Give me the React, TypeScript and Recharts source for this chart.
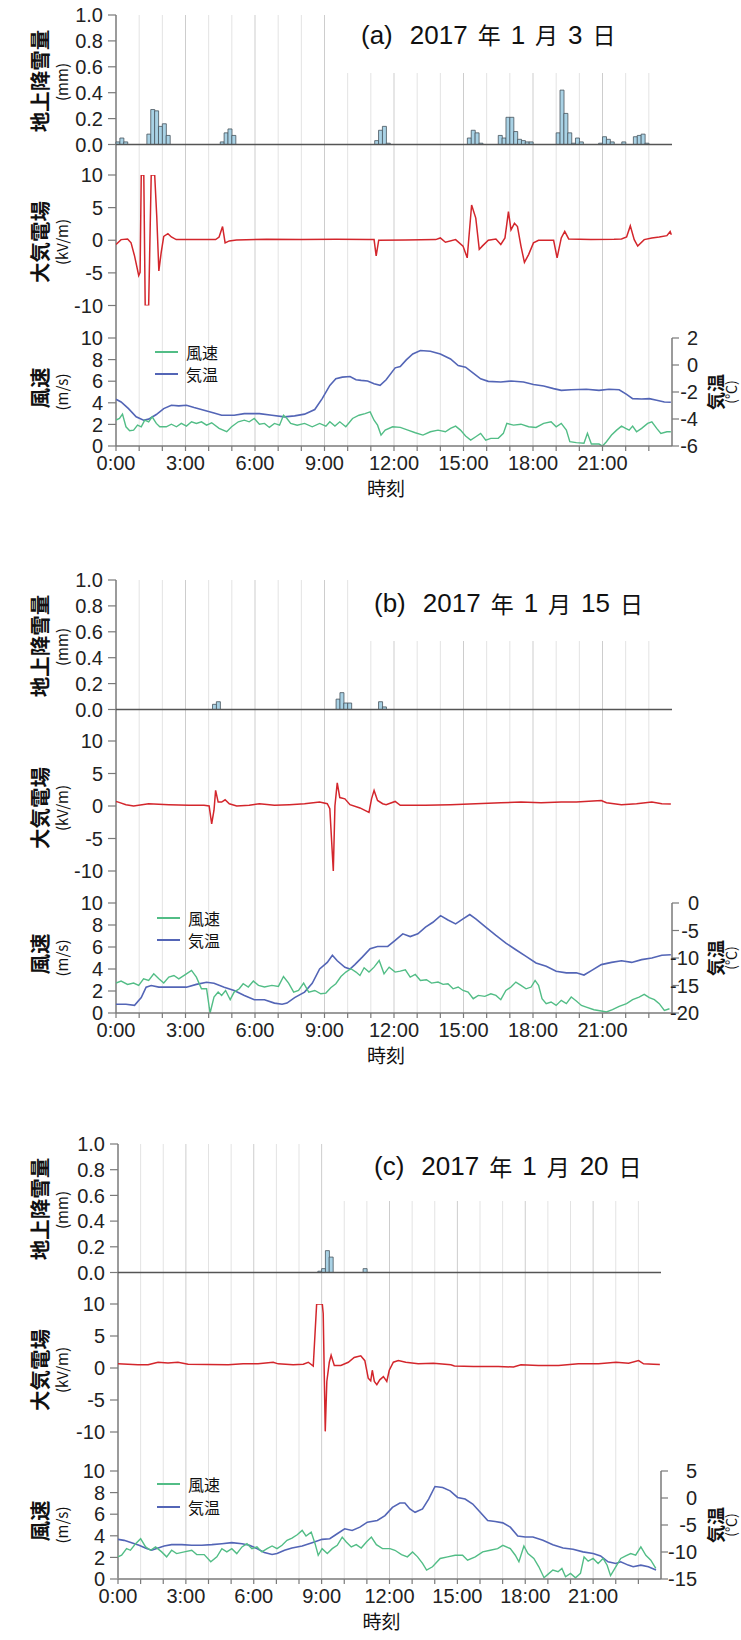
import React from "react";
import { Bar, BarChart, ComposedChart, Line, ReferenceLine, XAxis, YAxis } from "recharts";

type Pt = [number, number];

const W = 741;
const AXW = 60;
const PAD = 10;
const XAXIS_H = 34;

const NARROW = "'Liberation Sans Narrow', 'Arial Narrow', 'Liberation Sans', sans-serif";
const JP = "'Noto Sans CJK JP', 'Noto Sans', sans-serif";
const AXIS = "#7a7a7a";
const GRID = "#e3e3e3";
const GRID_3H = "#cdcdcd";
const RED = "#d3262c";
const GREEN = "#52bd86";
const BLUE = "#5365b6";
const SNOW_FILL = "#a9d2e5";
const SNOW_EDGE = "#46535c";

const HOUR_ROWS = [0, 24].map((h) => ({ h }));
const GRID_HOURS = [1, 2, 3, 4, 5, 6, 7, 8, 9, 10, 11, 12, 13, 14, 15, 16, 17, 18, 19, 20, 21, 22, 23];
const HOUR_TICKS = [0, 1, 2, 3, 4, 5, 6, 7, 8, 9, 10, 11, 12, 13, 14, 15, 16, 17, 18, 19, 20, 21, 22, 23];
const SNOW_TICKS = [0, 0.2, 0.4, 0.6, 0.8, 1.0];
const EF_TICKS = [-10, -5, 0, 5, 10];
const WIND_TICKS = [0, 2, 4, 6, 8, 10];
const SLOTS = 144; // 10-minute bins

// ---- (a) 2017-01-03 ----
const snowA: Pt[] = [
  [0, 0.02], [1, 0.05], [2, 0.02],
  [8, 0.08], [9, 0.27], [10, 0.26], [11, 0.14], [12, 0.16], [13, 0.07],
  [27, 0.02], [28, 0.09], [29, 0.12], [30, 0.07],
  [67, 0.03], [68, 0.11], [69, 0.14], [70, 0.01],
  [91, 0.05], [92, 0.11], [93, 0.09], [94, 0.01],
  [99, 0.07], [100, 0.05], [101, 0.21], [102, 0.21], [103, 0.1], [104, 0.04], [105, 0.03], [106, 0.02], [107, 0.02],
  [114, 0.09], [115, 0.42], [116, 0.24], [117, 0.09], [118, 0.01], [119, 0.05], [120, 0.02],
  [125, 0.01], [126, 0.06], [127, 0.04], [128, 0.02], [131, 0.02],
  [134, 0.06], [135, 0.07], [136, 0.08], [137, 0.01],
];
const efA: Pt[] = [
  [0, -0.65], [0.22, 0.1], [0.5, 0.2], [0.65, -0.4], [0.8, -2.4], [0.98, -5.4], [1.04, -4.9], [1.09, 10], [1.2, 10],
  [1.26, -10], [1.41, -10], [1.52, 10], [1.67, 10], [1.76, 3.6], [1.85, -4.7], [1.95, -1.9], [2.06, 0.6], [2.24, 1.0],
  [2.39, 0.5], [2.6, 0.1], [3.5, 0.1], [4.3, 0.1], [4.45, 0.5], [4.6, 2.1], [4.71, -0.4], [4.89, -0.1], [5.2, 0.05],
  [6.5, 0.15], [8, 0.1], [9.5, 0.15], [10.9, 0.1], [11.14, 0.1], [11.23, -2.4], [11.34, 0], [12.5, 0.05], [13.8, 0.1],
  [14.0, 0.35], [14.22, -0.3], [14.66, 0.1], [14.98, -0.9], [15.16, -2.7], [15.35, 5.4], [15.53, 3.4], [15.68, -1.4],
  [15.81, -0.9], [16.07, 0], [16.4, 0.2], [16.61, -0.65], [16.79, 0.35], [16.94, 4.4], [17.05, 1.6], [17.2, 2.6],
  [17.33, 2.1], [17.48, -0.9], [17.63, -3.4], [17.81, -2.2], [18.02, -0.4], [18.24, 0], [18.89, 0], [19.04, -2.7],
  [19.22, 0.35], [19.37, 1.35], [19.54, 0.2], [20.5, 0.1], [21.5, 0.15], [21.82, 0.2], [22.04, 0.5], [22.2, 2.2],
  [22.37, 0.1], [22.52, -0.9], [22.8, 0.1], [23.13, 0.35], [23.45, 0.5], [23.78, 0.7], [23.92, 1.35], [23.97, 0.85],
];
const windA: Pt[] = [
  [0, 2.4], [0.15, 2.55], [0.28, 2.95], [0.43, 1.78], [0.59, 1.41], [0.76, 1.47], [0.93, 1.93], [1.09, 1.78], [1.24, 2.39],
  [1.41, 2.24], [1.56, 2.7], [1.74, 2.09], [1.89, 1.78], [2.17, 1.78], [2.39, 2.02], [2.61, 1.78], [2.82, 2.09], [3.04, 1.84],
  [3.26, 2.24], [3.47, 2.09], [3.69, 2.24], [3.91, 1.93], [4.13, 2.15], [4.45, 1.63], [4.78, 1.32], [4.99, 1.78], [5.28, 2.24],
  [5.54, 2.39], [5.75, 2.24], [5.97, 2.55], [6.19, 2.02], [6.41, 2.09], [6.62, 1.72], [6.84, 2.09], [7.06, 1.93], [7.23, 2.85],
  [7.38, 2.55], [7.54, 2.09], [7.82, 1.93], [8.14, 2.09], [8.47, 1.78], [8.79, 2.09], [9.06, 1.84], [9.23, 2.24], [9.45, 1.84],
  [9.66, 2.24], [9.92, 1.78], [10.21, 2.55], [10.49, 2.85], [10.75, 3.0], [10.97, 3.16], [11.14, 2.39], [11.29, 1.93],
  [11.44, 1.01], [11.62, 1.47], [11.94, 1.78], [12.27, 1.72], [12.6, 1.47], [12.92, 1.23], [13.25, 1.01], [13.57, 1.32],
  [13.9, 1.47], [14.22, 1.32], [14.44, 1.63], [14.66, 1.84], [14.87, 1.47], [15.09, 0.92], [15.31, 0.55], [15.53, 0.86],
  [15.74, 1.17], [15.96, 0.55], [16.18, 0.71], [16.5, 0.71], [16.72, 1.17], [16.87, 2.09], [17.16, 1.93], [17.48, 2.02],
  [17.81, 1.78], [18.13, 1.72], [18.46, 2.09], [18.78, 2.24], [19.0, 1.78], [19.22, 2.09], [19.44, 1.47], [19.59, 0.4],
  [19.87, 0.31], [20.2, 0.25], [20.35, 1.17], [20.52, 0.18], [20.85, 0.18], [21.0, 0], [21.17, 0.4], [21.39, 1.01],
  [21.61, 1.47], [21.82, 1.84], [22.0, 1.63], [22.15, 1.47], [22.3, 1.84], [22.47, 1.32], [22.69, 1.63], [22.95, 2.09],
  [23.13, 2.24], [23.34, 1.63], [23.52, 1.17], [23.78, 1.32], [23.95, 1.32],
];
const tempA: Pt[] = [
  [0, -2.54], [0.22, -2.74], [0.54, -3.23], [0.87, -3.84], [1.19, -4.09], [1.41, -4.01], [1.74, -3.67], [2.06, -3.23],
  [2.39, -2.98], [2.71, -3.03], [3.04, -2.98], [3.37, -3.15], [3.8, -3.35], [4.23, -3.55], [4.56, -3.72], [5.1, -3.72],
  [5.54, -3.6], [6.19, -3.6], [6.73, -3.72], [7.27, -3.84], [7.71, -3.77], [8.14, -3.64], [8.58, -3.3], [8.9, -2.49],
  [9.23, -1.51], [9.49, -1.02], [9.77, -0.9], [10.1, -0.85], [10.36, -1.09], [10.58, -1.14], [10.86, -1.19], [11.14, -1.39],
  [11.4, -1.51], [11.66, -1.09], [12.05, -0.21], [12.27, -0.11], [12.53, 0.38], [12.81, 0.82], [13.14, 1.07], [13.57, 1.02],
  [14.0, 0.82], [14.44, 0.45], [14.77, -0.04], [15.09, -0.16], [15.42, -0.6], [15.74, -1.02], [16.07, -1.21], [16.61, -1.26],
  [17.05, -1.19], [17.59, -1.26], [18.02, -1.44], [18.46, -1.56], [18.89, -1.75], [19.22, -1.88], [19.65, -1.83],
  [20.3, -1.8], [20.85, -1.88], [21.28, -1.8], [21.72, -1.83], [22.04, -2.17], [22.3, -2.49], [22.69, -2.52], [23.02, -2.49],
  [23.34, -2.61], [23.67, -2.74], [23.95, -2.76],
];

// ---- (b) 2017-01-15 ----
const snowB: Pt[] = [
  [25, 0.04], [26, 0.06], [57, 0.08], [58, 0.13], [59, 0.05], [60, 0.05], [68, 0.06], [69, 0.02],
];
const efB: Pt[] = [
  [0, 0.7], [0.1, 0.6], [0.43, 0.2], [0.76, 0], [1.41, 0.35], [2.28, 0.2], [3.15, 0.1], [3.8, 0.1], [4.02, 0],
  [4.13, -2.75], [4.23, -0.65], [4.3, 2.4], [4.41, 0.6], [4.56, 0.6], [4.71, 0.95], [4.89, 0.35], [5.21, 0], [5.75, 0.1],
  [6.19, 0.35], [6.84, 0.1], [7.49, 0.2], [8.14, 0.35], [8.79, 0.6], [9.12, 0.35], [9.23, -0.4], [9.38, -10], [9.45, 0],
  [9.55, 3.55], [9.66, 1.3], [9.88, 1.1], [10.1, 0.2], [10.53, -0.3], [10.92, -1.0], [11.03, 1.1], [11.14, 2.4],
  [11.29, 0.85], [11.51, 0.35], [11.66, 0.2], [12.05, 0.7], [12.27, 0.1], [13.36, 0.1], [14.44, 0.2], [15.53, 0.35],
  [16.61, 0.5], [17.48, 0.6], [18.35, 0.5], [19.22, 0.6], [19.87, 0.6], [20.95, 0.85], [21.17, 0.5], [21.82, 0.2],
  [22.47, 0.35], [23.13, 0.6], [23.56, 0.35], [23.95, 0.3],
];
const windB: Pt[] = [
  [0, 2.72], [0.22, 2.9], [0.5, 2.6], [0.76, 2.72], [0.98, 2.51], [1.19, 3.11], [1.41, 2.96], [1.63, 3.56], [1.85, 3.11],
  [2.06, 2.72], [2.28, 3.26], [2.5, 3.41], [2.71, 3.11], [3.04, 3.56], [3.26, 3.87], [3.47, 3.26], [3.69, 2.2], [3.91, 2.2],
  [4.06, 0], [4.23, 1.45], [4.41, 1.9], [4.56, 1.6], [4.73, 2.05], [4.93, 1.21], [5.1, 1.9], [5.32, 2.2], [5.49, 2.66],
  [5.71, 2.36], [5.93, 2.9], [6.15, 2.51], [6.41, 2.36], [6.73, 2.51], [7.01, 2.42], [7.23, 3.32], [7.45, 2.72], [7.67, 1.9],
  [7.88, 2.05], [8.1, 2.72], [8.32, 1.9], [8.58, 2.05], [8.84, 1.75], [9.06, 1.81], [9.27, 2.3], [9.49, 2.66], [9.71, 3.32],
  [9.92, 3.72], [10.14, 4.02], [10.36, 3.72], [10.53, 3.41], [10.71, 4.11], [10.92, 3.72], [11.14, 4.17], [11.36, 4.77],
  [11.57, 3.56], [11.79, 4.17], [12.05, 3.72], [12.27, 3.81], [12.49, 3.93], [12.7, 3.26], [12.92, 3.5], [13.14, 2.96],
  [13.4, 3.02], [13.62, 2.72], [13.9, 2.81], [14.12, 2.6], [14.33, 2.66], [14.55, 2.2], [14.77, 2.36], [14.98, 2.05],
  [15.2, 1.9], [15.42, 1.3], [15.64, 1.6], [15.92, 1.51], [16.18, 1.75], [16.4, 1.6], [16.61, 1.21], [16.83, 2.05],
  [17.05, 2.36], [17.26, 2.81], [17.48, 2.51], [17.7, 2.2], [17.92, 2.36], [18.09, 2.96], [18.24, 2.51], [18.39, 1.3],
  [18.57, 0.85], [18.78, 1.0], [19.0, 0.69], [19.22, 1.15], [19.44, 0.85], [19.65, 1.45], [19.87, 1.09], [20.09, 0.69],
  [20.3, 0.54], [20.63, 0.3], [20.95, 0.18], [21.17, 0.09], [21.43, 0.3], [21.72, 0.6], [22.04, 0.85], [22.3, 1.21],
  [22.58, 1.45], [22.8, 1.69], [23.02, 1.39], [23.24, 1.21], [23.45, 0.85], [23.67, 0.24], [23.89, 0.39],
];
const tempB: Pt[] = [
  [0, -18.4], [0.43, -18.4], [0.8, -18.6], [1.09, -17.2], [1.3, -15.3], [1.52, -15.0], [1.85, -15.3], [2.39, -15.3],
  [3.04, -15.3], [3.47, -14.8], [3.91, -14.4], [4.23, -14.6], [4.67, -15.3], [5.1, -15.9], [5.54, -16.8], [5.97, -17.6],
  [6.41, -17.6], [6.84, -18.2], [7.17, -18.4], [7.38, -18.2], [7.71, -17.2], [8.14, -16.2], [8.47, -14.6], [8.79, -12.0],
  [9.12, -10.8], [9.34, -9.5], [9.55, -10.5], [9.88, -11.7], [10.1, -12.0], [10.31, -11.2], [10.64, -9.8], [10.97, -8.3],
  [11.29, -7.9], [11.73, -7.9], [12.05, -6.8], [12.38, -5.6], [12.7, -6.1], [13.03, -5.6], [13.36, -4.4], [13.68, -3.5],
  [14.01, -2.3], [14.33, -3.1], [14.66, -3.8], [14.98, -2.9], [15.27, -2.1], [15.53, -2.9], [15.96, -4.4], [16.4, -5.9],
  [16.83, -7.3], [17.26, -8.5], [17.7, -9.7], [18.13, -10.9], [18.57, -11.5], [19.0, -12.4], [19.44, -12.7], [19.87, -12.7],
  [20.2, -13.1], [20.52, -12.3], [20.95, -11.2], [21.39, -10.8], [21.82, -10.5], [22.26, -10.8], [22.69, -10.3],
  [23.13, -10.0], [23.56, -9.5], [23.95, -9.4],
];

// ---- (c) 2017-01-20 ----
const snowC: Pt[] = [[53, 0.01], [54, 0.03], [55, 0.17], [56, 0.12], [65, 0.03]];
const efC: Pt[] = [
  [0, 0.65], [0.88, 0.5], [1.33, 0.5], [1.77, 0.9], [2.21, 0.8], [2.65, 0.9], [3.1, 0.6], [3.98, 0.55], [4.87, 0.5],
  [5.53, 0.65], [6.19, 0.65], [6.86, 0.9], [7.08, 0.65], [7.74, 0.5], [8.19, 0.6], [8.41, 0.9], [8.63, 0.3], [8.78, 10],
  [9.03, 10], [9.07, 8.5], [9.16, -9.9], [9.23, -2.1], [9.34, 0.9], [9.42, 2.0], [9.56, 0.4], [9.85, 0.4], [10.18, 0.9],
  [10.44, 1.65], [10.73, 1.9], [10.91, 1.15], [11.06, -1.6], [11.17, -2.0], [11.24, -0.35], [11.33, -2.1], [11.44, -2.6],
  [11.57, -1.85], [11.73, -1.35], [11.88, -2.1], [11.99, -0.35], [12.17, 0.9], [12.39, 1.15], [12.72, 0.9], [13.27, 0.65],
  [13.94, 0.75], [14.71, 0.5], [14.87, 0.3], [15.71, 0.25], [16.81, 0.25], [17.48, 0.15], [17.81, 0.5], [18.58, 0.4],
  [19.47, 0.4], [20.35, 0.65], [21.24, 0.65], [22.01, 0.9], [22.57, 0.75], [23.01, 1.15], [23.23, 0.65], [23.67, 0.6],
  [23.95, 0.55],
];
const windC: Pt[] = [
  [0, 2.05], [0.16, 2.2], [0.38, 2.81], [0.55, 2.66], [0.78, 3.27], [1.0, 3.73], [1.22, 2.97], [1.44, 2.66], [1.66, 2.97],
  [1.93, 2.51], [2.15, 2.05], [2.37, 2.66], [2.59, 2.35], [2.93, 2.51], [3.26, 2.66], [3.48, 2.26], [3.81, 2.26],
  [4.1, 1.59], [4.37, 2.05], [4.59, 2.81], [4.81, 2.51], [5.03, 2.81], [5.25, 2.35], [5.48, 2.97], [5.7, 3.27], [5.92, 2.81],
  [6.14, 2.97], [6.36, 2.51], [6.59, 2.81], [6.81, 3.06], [7.03, 2.81], [7.25, 3.12], [7.47, 3.58], [7.69, 3.79], [7.92, 4.1],
  [8.14, 4.5], [8.31, 3.98], [8.54, 4.34], [8.71, 3.27], [8.85, 2.2], [9.02, 2.81], [9.25, 2.35], [9.47, 2.81], [9.69, 3.12],
  [9.91, 3.88], [10.09, 3.43], [10.31, 2.97], [10.53, 3.18], [10.75, 2.87], [10.98, 3.43], [11.2, 3.88], [11.42, 3.18],
  [11.69, 2.81], [12.02, 2.81], [12.24, 2.66], [12.53, 2.26], [12.79, 2.05], [13.02, 2.51], [13.24, 2.05], [13.46, 1.44],
  [13.64, 0.83], [13.9, 1.13], [14.24, 1.9], [14.57, 2.05], [14.9, 2.2], [15.23, 2.2], [15.45, 1.74], [15.79, 2.05],
  [16.12, 2.51], [16.45, 2.66], [16.78, 2.81], [17.01, 3.12], [17.34, 2.81], [17.56, 2.2], [17.72, 1.59], [17.94, 3.06],
  [18.12, 2.35], [18.38, 1.9], [18.6, 1.13], [18.83, 0.12], [19.0, 0.43], [19.22, 0.83], [19.45, 0.67], [19.62, 0.98],
  [19.78, 0.21], [20.0, 0.52], [20.22, 0.12], [20.44, 0.52], [20.6, 2.05], [20.78, 1.65], [21.0, 1.9], [21.22, 1.44],
  [21.44, 1.9], [21.62, 1.28], [21.77, 0.31], [22.0, 1.13], [22.22, 1.9], [22.44, 2.14], [22.66, 2.35], [22.88, 2.2],
  [23.11, 2.97], [23.33, 2.2], [23.55, 1.74], [23.77, 0.98],
];
const tempC: Pt[] = [
  [0, -7.66], [0.27, -7.84], [0.6, -8.27], [0.93, -8.76], [1.26, -9.37], [1.49, -9.68], [1.71, -9.37], [2.04, -8.88],
  [2.37, -8.64], [2.82, -8.64], [3.26, -8.76], [3.7, -8.76], [4.15, -8.64], [4.59, -8.46], [5.03, -8.27], [5.48, -8.46],
  [5.81, -8.76], [6.14, -9.37], [6.47, -10.1], [6.81, -10.47], [7.03, -10.29], [7.36, -9.68], [7.69, -9.25], [8.14, -8.88],
  [8.58, -8.27], [9.02, -7.66], [9.36, -7.54], [9.69, -6.62], [10.02, -5.7], [10.35, -6.01], [10.69, -5.4], [11.02, -4.48],
  [11.46, -4.17], [11.8, -3.26], [12.13, -1.73], [12.46, -0.93], [12.68, -0.93], [12.9, -2.03], [13.13, -2.65],
  [13.46, -2.03], [13.73, -0.2], [14.01, 2.13], [14.35, 1.94], [14.68, 1.33], [15.01, 0.11], [15.34, -0.2], [15.68, -1.12],
  [16.01, -2.65], [16.34, -4.17], [16.67, -4.36], [17.01, -4.6], [17.34, -5.4], [17.67, -7.05], [18.0, -7.23],
  [18.34, -7.23], [18.78, -7.84], [19.22, -8.64], [19.67, -9.25], [20.11, -9.5], [20.55, -9.98], [21.0, -10.29],
  [21.33, -10.72], [21.66, -11.82], [22.0, -12.13], [22.22, -11.82], [22.55, -12.43], [22.77, -12.74], [23.11, -12.43],
  [23.44, -12.74], [23.78, -13.35],
];

type Geo = {
  xl: number;
  xr: number;
  snow: [number, number]; // 1.0 / 0.0
  ef: [number, number]; // +10 / -10
  wind: [number, number]; // 10 / 0
  boxLeft: number;
  boxBottom: number;
  titleLeft: number;
  titleY: number;
  legendX: number;
  legendY: [number, number];
  rightEdge: number;
};

const geoA: Geo = {
  xl: 116, xr: 672, snow: [15, 144.5], ef: [175, 305.5], wind: [338, 446],
  boxLeft: 336, boxBottom: 73, titleLeft: 361, titleY: 34.5, legendX: 155, legendY: [352, 374], rightEdge: 698,
};
const geoB: Geo = {
  xl: 116, xr: 672, snow: [580, 709.5], ef: [741, 871], wind: [903, 1013],
  boxLeft: 357, boxBottom: 641, titleLeft: 374, titleY: 603, legendX: 157, legendY: [918, 940], rightEdge: 699,
};
const geoC: Geo = {
  xl: 118, xr: 661, snow: [1144, 1272.5], ef: [1304, 1432], wind: [1470.5, 1578.5],
  boxLeft: 332, boxBottom: 1201, titleLeft: 374, titleY: 1166, legendX: 157, legendY: [1484, 1507], rightEdge: 697,
};

const TICK = { fill: "#222", fontSize: 20, fontFamily: NARROW };

const rows = (pts: Pt[]) => pts.map(([t, v]) => ({ t, v }));

function snowRows(bars: Pt[]) {
  const out: { slot: number; v: number | null }[] = [];
  for (let k = 0; k < SLOTS; k++) out.push({ slot: k, v: null });
  bars.forEach(([k, v]) => {
    out[k].v = v;
  });
  return out;
}

const fmtHour = (h: number) => (h % 3 === 0 ? `${h}:00` : "");

function VText({ x, y, text, size, weight = 400 }: {
  x: number; y: number; text: string; size: number; weight?: number;
}) {
  return (
    <div
      style={{
        position: "absolute",
        left: x,
        top: y,
        transform: "translate(-50%, -50%) rotate(-90deg)",
        whiteSpace: "nowrap",
        fontSize: size,
        fontWeight: weight,
        fontFamily: JP,
        color: "#111",
        lineHeight: 1,
      }}
    >
      {text}
    </div>
  );
}

function Title({ geo, tag, day }: { geo: Geo; tag: string; day: string }) {
  const jp = { fontFamily: JP, fontSize: 23 };
  return (
    <div
      style={{
        position: "absolute",
        left: geo.titleLeft,
        top: geo.titleY,
        transform: "translateY(-50%)",
        display: "flex",
        alignItems: "center",
        gap: 10,
        fontFamily: NARROW,
        fontSize: 26,
        color: "#111",
        lineHeight: 1,
        whiteSpace: "nowrap",
      }}
    >
      <span style={{ marginRight: 7 }}>{tag}</span>
      <span>2017</span>
      <span style={jp}>年</span>
      <span>1</span>
      <span style={jp}>月</span>
      <span>{day}</span>
      <span style={jp}>日</span>
    </div>
  );
}

function Panel({ geo, tag, day, snow, ef, wind, temp, tempDomain, tempTicks }: {
  geo: Geo; tag: string; day: string; snow: Pt[]; ef: Pt[]; wind: Pt[]; temp: Pt[];
  tempDomain: [number, number]; tempTicks: number[];
}) {
  const { xl, xr } = geo;
  // charts with only a left axis
  const margin = { top: PAD, bottom: PAD, left: xl - AXW, right: W - xr };
  // bottom chart also has a right axis
  const margin2 = { top: PAD, bottom: 0, left: xl - AXW, right: W - xr - AXW };
  const at = (top: number): React.CSSProperties => ({ position: "absolute", left: 0, top });

  const rightTick = (p: any) => (
    <text
      x={geo.rightEdge}
      y={p.y}
      dy="0.36em"
      textAnchor="end"
      fill={TICK.fill}
      fontSize={TICK.fontSize}
      fontFamily={NARROW}
    >
      {p.payload.value}
    </text>
  );

  return (
    <>
      {/* hour grid + continuous left axis */}
      <div style={at(geo.snow[0] - PAD)}>
        <ComposedChart width={W} height={geo.wind[1] - geo.snow[0] + 2 * PAD} data={HOUR_ROWS} margin={margin}>
          <XAxis type="number" dataKey="h" domain={[0, 24]} hide />
          <YAxis width={AXW} domain={[0, 24]} tick={false} tickLine={false} axisLine={{ stroke: AXIS, strokeWidth: 1.5 }} />
          <Line dataKey="h" stroke="none" dot={false} activeDot={false} isAnimationActive={false} />
          {GRID_HOURS.map((h) => (
            <ReferenceLine key={h} x={h} stroke={h % 3 === 0 ? GRID_3H : GRID} strokeWidth={1} />
          ))}
        </ComposedChart>
      </div>

      {/* title on a white box that hides the grid */}
      <div
        style={{
          position: "absolute",
          left: geo.boxLeft,
          top: geo.snow[0] - 4,
          width: 690 - geo.boxLeft,
          height: geo.boxBottom - geo.snow[0] + 4,
          background: "#fff",
        }}
      />
      <Title geo={geo} tag={tag} day={day} />

      {/* snowfall */}
      <div style={at(geo.snow[0] - PAD)}>
        <BarChart
          width={W}
          height={geo.snow[1] - geo.snow[0] + 2 * PAD}
          data={snowRows(snow)}
          margin={margin}
          barCategoryGap={0}
          barGap={0}
        >
          <XAxis dataKey="slot" hide />
          <YAxis
            width={AXW}
            domain={[0, 1]}
            ticks={SNOW_TICKS}
            interval={0}
            tickFormatter={(v: number) => v.toFixed(1)}
            axisLine={false}
            tickLine={{ stroke: AXIS, strokeWidth: 1.2 }}
            tickSize={8}
            tickMargin={5}
            tick={TICK}
          />
          <ReferenceLine y={0} stroke="#555" strokeWidth={1.5} />
          <Bar dataKey="v" fill={SNOW_FILL} stroke={SNOW_EDGE} strokeWidth={0.8} isAnimationActive={false} />
        </BarChart>
      </div>

      {/* atmospheric electric field */}
      <div style={at(geo.ef[0] - PAD)}>
        <ComposedChart width={W} height={geo.ef[1] - geo.ef[0] + 2 * PAD} margin={margin}>
          <XAxis type="number" dataKey="t" domain={[0, 24]} hide allowDataOverflow />
          <YAxis
            width={AXW}
            domain={[-10, 10]}
            ticks={EF_TICKS}
            interval={0}
            allowDataOverflow
            axisLine={false}
            tickLine={{ stroke: AXIS, strokeWidth: 1.2 }}
            tickSize={8}
            tickMargin={5}
            tick={TICK}
          />
          <Line data={rows(ef)} dataKey="v" stroke={RED} strokeWidth={1.5} dot={false} isAnimationActive={false} />
        </ComposedChart>
      </div>

      {/* wind speed + air temperature */}
      <div style={at(geo.wind[0] - PAD)}>
        <ComposedChart width={W} height={geo.wind[1] - geo.wind[0] + PAD + XAXIS_H} margin={margin2}>
          <XAxis
            type="number"
            dataKey="t"
            domain={[0, 24]}
            ticks={HOUR_TICKS}
            interval={0}
            tickFormatter={fmtHour}
            height={XAXIS_H}
            tickSize={5}
            tickMargin={5}
            axisLine={{ stroke: AXIS, strokeWidth: 1.5 }}
            tickLine={{ stroke: AXIS, strokeWidth: 1.2 }}
            tick={TICK}
            allowDataOverflow
          />
          <YAxis
            yAxisId="w"
            width={AXW}
            domain={[0, 10]}
            ticks={WIND_TICKS}
            interval={0}
            axisLine={false}
            tickLine={{ stroke: AXIS, strokeWidth: 1.2 }}
            tickSize={8}
            tickMargin={5}
            tick={TICK}
          />
          <YAxis
            yAxisId="c"
            orientation="right"
            width={AXW}
            domain={tempDomain}
            ticks={tempTicks}
            interval={0}
            axisLine={{ stroke: AXIS, strokeWidth: 1.5 }}
            tickLine={{ stroke: AXIS, strokeWidth: 1.2 }}
            tickSize={7}
            tickMargin={4}
            tick={rightTick}
          />
          <Line yAxisId="c" data={rows(temp)} dataKey="v" stroke={BLUE} strokeWidth={1.6} dot={false} isAnimationActive={false} />
          <Line yAxisId="w" data={rows(wind)} dataKey="v" stroke={GREEN} strokeWidth={1.4} dot={false} isAnimationActive={false} />
        </ComposedChart>
      </div>

      {/* legend */}
      {[
        { name: "風速", color: GREEN, y: geo.legendY[0] },
        { name: "気温", color: BLUE, y: geo.legendY[1] },
      ].map((it) => (
        <div
          key={it.name}
          style={{
            position: "absolute",
            left: geo.legendX,
            top: it.y,
            transform: "translateY(-50%)",
            display: "flex",
            alignItems: "center",
            gap: 8,
            fontFamily: JP,
            fontSize: 16,
            color: "#111",
            lineHeight: 1,
          }}
        >
          <span style={{ display: "inline-block", width: 23, height: 2.5, background: it.color }} />
          <span>{it.name}</span>
        </div>
      ))}

      {/* axis titles */}
      <VText x={39} y={(geo.snow[0] + geo.snow[1]) / 2 + 1} text="地上降雪量" size={20.5} weight={700} />
      <VText x={61} y={(geo.snow[0] + geo.snow[1]) / 2 + 2} text="(mm)" size={15} />
      <VText x={39} y={(geo.ef[0] + geo.ef[1]) / 2 + 2} text="大気電場" size={20.5} weight={700} />
      <VText x={61} y={(geo.ef[0] + geo.ef[1]) / 2 + 2} text="(kV/m)" size={15} />
      <VText x={39} y={(geo.wind[0] + geo.wind[1]) / 2 - 4} text="風速" size={20.5} weight={700} />
      <VText x={61} y={(geo.wind[0] + geo.wind[1]) / 2} text="(m/s)" size={15} />
      <VText x={715} y={(geo.wind[0] + geo.wind[1]) / 2} text="気温" size={18} weight={700} />
      <VText x={730} y={(geo.wind[0] + geo.wind[1]) / 2} text="(℃)" size={14} />
      <div
        style={{
          position: "absolute",
          left: (xl + xr) / 2 - 8,
          top: geo.wind[1] + 41,
          transform: "translate(-50%, -50%)",
          fontFamily: JP,
          fontSize: 19,
          color: "#111",
          lineHeight: 1,
        }}
      >
        時刻
      </div>
    </>
  );
}

export default function App() {
  return (
    <div
      style={{
        position: "absolute",
        left: 0,
        top: 0,
        width: W,
        height: 1640,
        background: "#fff",
        overflow: "hidden",
      }}
    >
      <Panel geo={geoA} tag="(a)" day="3" snow={snowA} ef={efA} wind={windA} temp={tempA}
        tempDomain={[-6, 2]} tempTicks={[-6, -4, -2, 0, 2]} />
      <Panel geo={geoB} tag="(b)" day="15" snow={snowB} ef={efB} wind={windB} temp={tempB}
        tempDomain={[-20, 0]} tempTicks={[-20, -15, -10, -5, 0]} />
      <Panel geo={geoC} tag="(c)" day="20" snow={snowC} ef={efC} wind={windC} temp={tempC}
        tempDomain={[-15, 5]} tempTicks={[-15, -10, -5, 0, 5]} />
    </div>
  );
}
